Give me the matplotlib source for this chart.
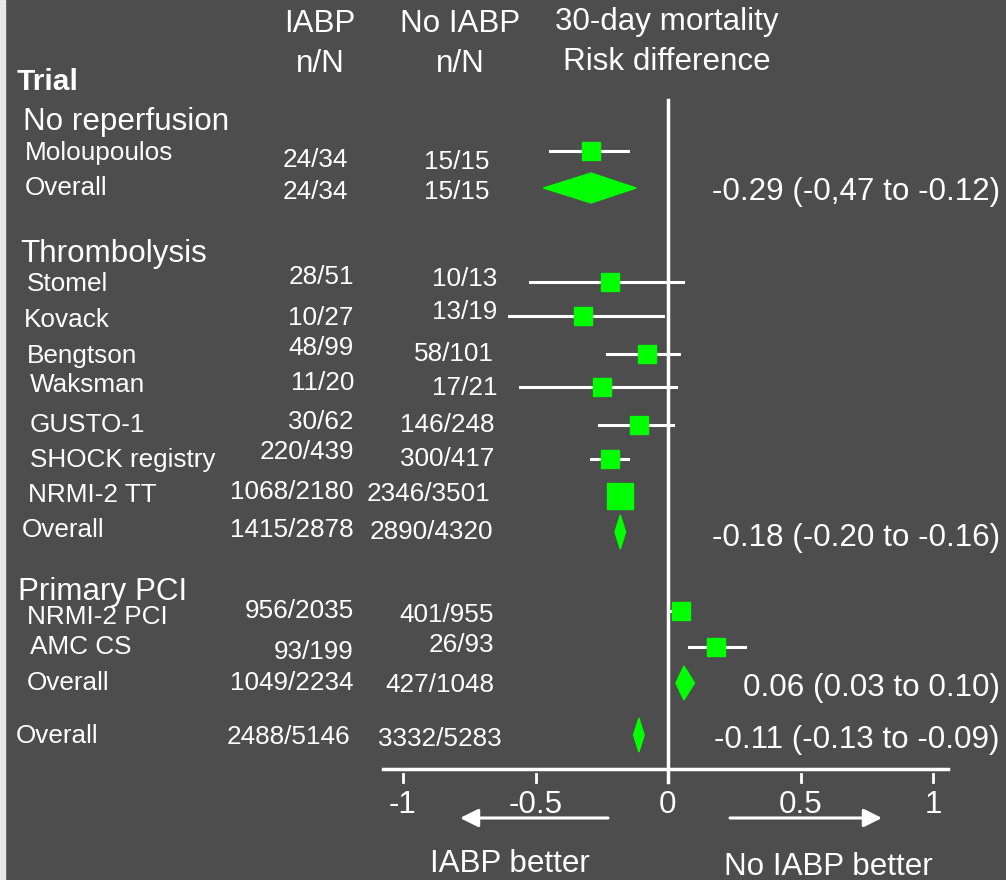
#!/usr/bin/env python3
"""
Forest plot: IABP vs no IABP, 30-day mortality risk difference
"""

import matplotlib
matplotlib.use("Agg")
import matplotlib.pyplot as plt
from matplotlib.patches import Polygon, Rectangle

# ---- data ----
trials = ["Moloupoulos", "Stomel", "Kovack", "Bengtson", "Waksman", "GUSTO-1",
          "SHOCK registry", "NRMI-2 TT", "NRMI-2 PCI", "AMC CS"]
trial_iabp = ["24/34", "28/51", "10/27", "48/99", "11/20", "30/62",
              "220/439", "1068/2180", "956/2035", "93/199"]
trial_no_iabp = ["15/15", "10/13", "13/19", "58/101", "17/21", "146/248",
                 "300/417", "2346/3501", "401/955", "26/93"]
trial_rd = [-0.29, -0.22, -0.32, -0.08, -0.25, -0.11, -0.22, -0.18, 0.05, 0.18]
trial_lo = [-0.445, -0.52, -0.60, -0.23, -0.56, -0.26, -0.29, -0.18, 0.01, 0.08]
trial_hi = [-0.15, 0.057, -0.02, 0.04, 0.03, 0.02, -0.15, -0.18, 0.08, 0.29]
trial_big = [False, False, False, False, False, False, False, True, False, False]

groups = ["No reperfusion", "Thrombolysis", "Primary PCI"]
pooled_iabp = ["24/34", "1415/2878", "1049/2234", "2488/5146"]
pooled_no_iabp = ["15/15", "2890/4320", "427/1048", "3332/5283"]
pooled_rd = [-0.29, -0.18, 0.06, -0.11]
pooled_lo = [-0.47, -0.20, 0.03, -0.13]
pooled_hi = [-0.12, -0.16, 0.10, -0.09]
pooled_text = ["-0.29 (-0,47 to -0.12)", "-0.18 (-0.20 to -0.16)",
               "0.06 (0.03 to 0.10)", "-0.11 (-0.13 to -0.09)"]

xticks = [-1, -0.5, 0, 0.5, 1]
xtick_labels = ["-1", "-0.5", "0", "0.5", "1"]

# ---- layout (pixels, y down) ----
W, H = 1006, 880
X0, SCALE = 668, 265.0          # pixel of RD=0, pixels per unit
BG = "#4d4d4d"
GREEN = "#00ff00"
FONT = "Liberation Sans"
BIG, SMALL = 22.6, 18.8

trial_y = [153, 284, 320, 356, 385, 425, 460, 495, 617, 647]
trial_name_x = [25, 27, 24, 27, 30, 30, 30, 28, 27, 30]
trial_iabp_pos = [(348, 160), (354, 277), (354, 318), (354, 348), (354, 383),
                  (354, 422), (354, 452), (354, 492), (354, 611), (354, 652)]
trial_no_pos = [(490, 162), (497, 279), (497, 312), (494, 354), (497, 388),
                (494, 425), (494, 459), (490, 494), (494, 615), (494, 645)]
trial_mark_y = [151, 282, 316, 354, 387, 425, 459, 496, 611, 647]

group_pos = [(23, 122), (20, 254), (18, 592)]
pooled_y = [188, 532, 683, 735]
pooled_name_pos = [(25, 188), (22, 530), (27, 683), (16, 736)]
pooled_iabp_pos = [(348, 192), (354, 530), (354, 683), (350, 737)]
pooled_no_pos = [(490, 192), (493, 532), (494, 685), (502, 739)]
pooled_text_y = [192, 538, 688, 740]
pooled_half_h = [15, 17, 17, 17]


def px(x):
    """pixel x -> risk difference"""
    return (x - X0) / SCALE


def main():
    fig = plt.figure(figsize=(W / 100, H / 100), dpi=100, facecolor=BG)
    ax = fig.add_axes([0, 0, 1, 1])
    ax.set_facecolor(BG)
    ax.set_xlim(px(0), px(W))
    ax.set_ylim(H, 0)
    ax.axis("off")

    # light strip on the left edge
    ax.add_patch(Rectangle((px(0), 0), 5 / SCALE, H, color="#e8e8e8", zorder=1))

    txt = dict(color="white", family=FONT, va="center")

    # headers
    ax.text(px(320), 24, "IABP", ha="center", fontsize=BIG, **txt)
    ax.text(px(320), 64, "n/N", ha="center", fontsize=BIG, **txt)
    ax.text(px(460), 24, "No IABP", ha="center", fontsize=BIG, **txt)
    ax.text(px(460), 64, "n/N", ha="center", fontsize=BIG, **txt)
    ax.text(px(667), 22, "30-day mortality", ha="center", fontsize=BIG, **txt)
    ax.text(px(667), 62, "Risk difference", ha="center", fontsize=BIG, **txt)
    ax.text(px(17), 82, "Trial", ha="left", fontsize=BIG - 1, fontweight="bold", **txt)

    for name, (gx, gy) in zip(groups, group_pos):
        ax.text(px(gx), gy, name, ha="left", fontsize=BIG, **txt)

    # vertical no-effect line
    ax.plot([0, 0], [100, 782], color="white", lw=2.5, zorder=2)

    # individual trials
    for i, name in enumerate(trials):
        ax.text(px(trial_name_x[i]), trial_y[i], name, ha="left", fontsize=SMALL, **txt)
        x, y = trial_iabp_pos[i]
        ax.text(px(x), y, trial_iabp[i], ha="right", fontsize=SMALL, **txt)
        x, y = trial_no_pos[i]
        ax.text(px(x), y, trial_no_iabp[i], ha="right", fontsize=SMALL, **txt)
        my = trial_mark_y[i]
        if trial_hi[i] > trial_lo[i]:
            ax.plot([trial_lo[i], trial_hi[i]], [my, my], color="white", lw=2.2, zorder=3)
        ax.plot(trial_rd[i], my, marker="s", ms=19 if trial_big[i] else 13.5,
                color=GREEN, mec=GREEN, ls="none", zorder=4)

    # pooled estimates
    for i in range(len(pooled_rd)):
        x, y = pooled_name_pos[i]
        ax.text(px(x), y, "Overall", ha="left", fontsize=SMALL, **txt)
        x, y = pooled_iabp_pos[i]
        ax.text(px(x), y, pooled_iabp[i], ha="right", fontsize=SMALL, **txt)
        x, y = pooled_no_pos[i]
        ax.text(px(x), y, pooled_no_iabp[i], ha="right", fontsize=SMALL, **txt)
        yc, hh = pooled_y[i], pooled_half_h[i]
        ax.add_patch(Polygon([(pooled_lo[i], yc), (pooled_rd[i], yc - hh),
                              (pooled_hi[i], yc), (pooled_rd[i], yc + hh)],
                             closed=True, color=GREEN, zorder=4))
        ax.text(px(1000), pooled_text_y[i], pooled_text[i], ha="right",
                fontsize=BIG, **txt)

    # x axis
    ax.plot([px(383), px(948)], [769, 769], color="white", lw=2.5, zorder=2)
    for t, lab in zip(xticks, xtick_labels):
        ax.plot([t, t], [774, 782], color="white", lw=2, zorder=2)
        ax.text(t, 805, lab, ha="center", fontsize=BIG, **txt)

    # direction arrows
    arrow = dict(arrowstyle="-|>,head_length=1.1,head_width=0.55", color="white",
                 lw=2.2, shrinkA=0, shrinkB=0)
    ax.annotate("", xy=(px(460), 818), xytext=(px(608), 818), arrowprops=arrow)
    ax.annotate("", xy=(px(882), 818), xytext=(px(730), 818), arrowprops=arrow)
    ax.text(px(510), 864, "IABP better", ha="center", fontsize=BIG, **txt)
    ax.text(px(828), 867, "No IABP better", ha="center", fontsize=BIG, **txt)

    fig.savefig("out.png", dpi=100, facecolor=BG)


if __name__ == "__main__":
    main()
